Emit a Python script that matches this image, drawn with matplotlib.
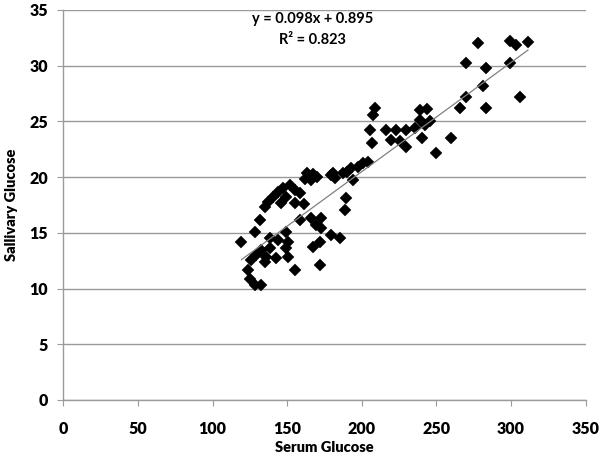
import matplotlib
matplotlib.use("Agg")
import matplotlib.pyplot as plt
import numpy as np

plt.rcParams['font.family'] = ['Lato', 'DejaVu Sans']

serum = [119.4, 123.8, 125, 126.1, 128.3, 128.3, 129.4, 131.7, 132.8, 132.8,
         135, 135, 136.1, 137.2, 138.4, 138.4, 140.6, 142.8, 143.9, 144.1,
         146.2, 147.5, 149.5, 149.5, 149.5, 150.6, 150.6, 151.7, 155.1, 155.1,
         155.1, 158.4, 158.4, 161.5, 163, 167, 170, 162, 166, 166.3,
         169.6, 173, 173, 167.3, 171.8, 171.8, 179.6, 185.2, 179.2, 180.7,
         181.9, 187.4, 190, 193, 197.5, 200.8, 204.2, 194.1, 189.7, 188.6,
         206.6, 205.3, 207.7, 208.6, 216.5, 223.2, 229.9, 235.4, 219.8, 225.4,
         229.9, 238.8, 243.6, 238.8, 242.1, 245.4, 240, 250, 259.5, 265.5,
         270, 269.5, 277.8, 283.4, 281.1, 283.4, 299, 303.5, 311.3, 299,
         305.7]
salivary = [14.2, 11.65, 10.9, 12.55, 10.3, 15.1, 13.0, 16.15, 10.3, 13.45,
            12.4, 17.35, 12.85, 17.8, 14.5, 13.6, 18.25, 12.7, 18.7, 14.35,
            17.65, 19.0, 18.25, 15.1, 13.6, 14.2, 12.85, 19.3, 18.85, 17.65,
            11.65, 18.55, 16.15, 17.6, 20.4, 20.3, 20.0, 19.8, 19.7, 16.3,
            15.7, 16.3, 15.4, 13.75, 12.1, 14.2, 14.8, 14.5, 20.2, 20.35,
            19.9, 20.35, 20.5, 20.8, 20.95, 21.25, 21.4, 19.75, 18.1, 17.05,
            23.1, 24.25, 25.6, 26.2, 24.2, 24.2, 24.2, 24.4, 23.3, 23.2,
            22.7, 26.0, 26.1, 25.1, 24.7, 25.0, 23.5, 22.2, 23.55, 26.2,
            27.2, 30.2, 32.0, 29.8, 28.2, 26.2, 32.25, 31.9, 32.15, 30.2,
            27.2]

slope, intercept = 0.098, 0.895
eq_text = "y = 0.098x + 0.895"
r2_text = "R² = 0.823"
x_ticks = [0, 50, 100, 150, 200, 250, 300, 350]
y_ticks = [0, 5, 10, 15, 20, 25, 30, 35]

fig = plt.figure(figsize=(6.02, 4.54), dpi=100)
ax = fig.add_axes([0.105, 0.119, 0.868, 0.859])

ax.set_xlim(0, 350)
ax.set_ylim(0, 35)
ax.set_xticks(x_ticks)
ax.set_yticks(y_ticks)
ax.yaxis.grid(True, color='#999999', linewidth=1.0)
ax.set_axisbelow(True)
for s in ['top', 'right']:
    ax.spines[s].set_visible(False)
for s in ['left', 'bottom']:
    ax.spines[s].set_color('#9a9a9a')
    ax.spines[s].set_linewidth(1.0)
ax.tick_params(axis='both', direction='out', length=4, color='#9a9a9a',
               labelsize=11.5)
ax.tick_params(axis='x', pad=11)
ax.tick_params(axis='y', pad=7)
for lab in ax.get_xticklabels() + ax.get_yticklabels():
    lab.set_fontweight('heavy')

ax.plot(serum, salivary, linestyle='none', marker='D', markersize=5.8,
        color='black', markeredgewidth=0.3, zorder=3)

xl = np.array([min(serum), max(serum)])
ax.plot(xl, slope * xl + intercept, color='#808080', linewidth=0.9, zorder=4)

ax.text(167, 34.2, eq_text, ha='center', va='center', fontsize=10.5,
        fontweight='bold')
ax.text(167, 32.3, r2_text, ha='center', va='center', fontsize=10.5,
        fontweight='bold')

ax.set_xlabel('Serum Glucose', fontsize=10.5, fontweight='heavy', labelpad=3)
ax.set_ylabel('Sallivary Glucose', fontsize=10.5, fontweight='heavy', labelpad=8)

fig.savefig('out.png', dpi=100)
